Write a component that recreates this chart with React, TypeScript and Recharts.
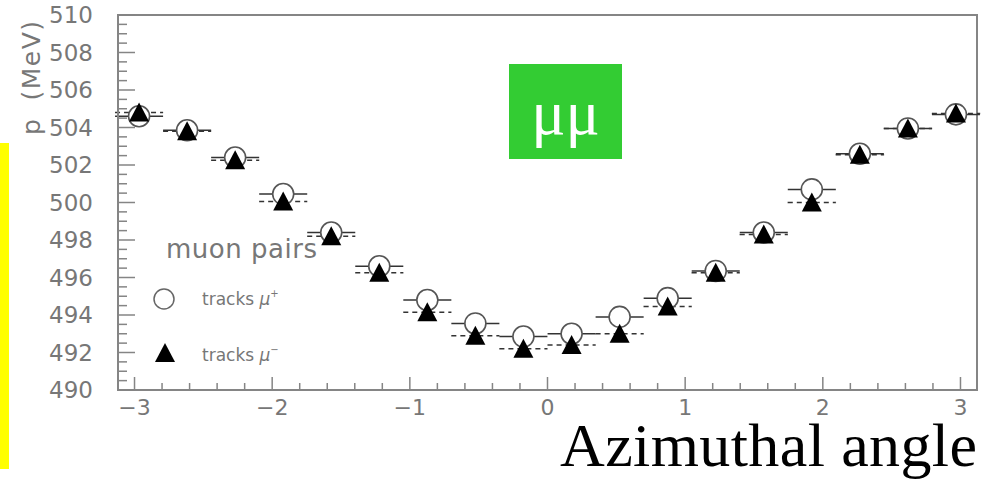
import React from "react";
import {
  ScatterChart,
  Scatter,
  XAxis,
  YAxis,
  ErrorBar,
  ReferenceArea,
} from "recharts";

// bin centres in azimuth (18 bins across -pi..pi)
const phi = [
  -2.967, -2.618, -2.269, -1.92, -1.571, -1.222, -0.873, -0.524, -0.175, 0.175,
  0.524, 0.873, 1.222, 1.571, 1.92, 2.269, 2.618, 2.967,
];
// mean momentum (MeV) for mu+ and mu- tracks
const pPlus = [
  504.6, 503.85, 502.4, 500.45, 498.4, 496.6, 494.8, 493.55, 492.85, 493.0,
  493.9, 494.9, 496.35, 498.4, 500.7, 502.6, 503.95, 504.7,
];
const pMinus = [
  504.8, 503.8, 502.25, 500.05, 498.2, 496.25, 494.15, 492.9, 492.2, 492.4,
  493.0, 494.45, 496.25, 498.3, 500.0, 502.55, 503.95, 504.75,
];
const binHalfWidth = 0.1745;

const xDomain = [-3.12, 3.12];
const yDomain = [490, 510];
const xMajor = [-3, -2, -1, 0, 1, 2, 3];
const yMajor = [490, 492, 494, 496, 498, 500, 502, 504, 506, 508, 510];

const xTicks: number[] = [];
for (let i = -15; i <= 15; i++) xTicks.push(i / 5);
const yTicks: number[] = [];
for (let v = 490; v <= 510; v += 0.5) yTicks.push(v);

const plusData = phi.map((x, i) => ({ phi: x, p: pPlus[i], dx: binHalfWidth }));
const minusData = phi.map((x, i) => ({ phi: x, p: pMinus[i], dx: binHalfWidth }));

const AXIS = "#858585";
const LABEL = "#777";
const SANS = "'DejaVu Sans', sans-serif";
const SERIF = "'Liberation Serif', 'Times New Roman', serif";

const X_MARGIN = 17;
const Y_MARGIN = 25;

function XTick(props: any) {
  const { x, y, payload } = props;
  const v = payload.value;
  const axisY = y - X_MARGIN;
  const major = xMajor.some((m) => Math.abs(m - v) < 1e-6);
  return (
    <g>
      <line x1={x} x2={x} y1={axisY} y2={axisY - (major ? 13 : 7)} stroke={AXIS} strokeWidth={1.5} />
      {major && (
        <text x={x} y={y} textAnchor="middle" dominantBaseline="central" fontFamily={SANS} fontSize={22} fill={LABEL}>
          {v < 0 ? `\u2212${Math.abs(v)}` : v}
        </text>
      )}
    </g>
  );
}

function YTick(props: any) {
  const { x, y, payload } = props;
  const v = payload.value;
  const axisX = x + Y_MARGIN;
  const major = yMajor.includes(v);
  return (
    <g>
      <line x1={axisX} x2={axisX + (major ? 17 : 9)} y1={y} y2={y} stroke={AXIS} strokeWidth={1.5} />
      {major && (
        <text x={x} y={y} textAnchor="end" dominantBaseline="central" fontFamily={SANS} fontSize={23} fill={LABEL}>
          {v}
        </text>
      )}
    </g>
  );
}

function YTitle(props: any) {
  const vb = props.viewBox || { x: 0, y: 15 };
  const bx = vb.x + 40;
  return (
    <g fontFamily={SANS} fontSize={25} fill={LABEL}>
      <text transform={`translate(${bx}, ${vb.y + 112}) rotate(-90)`} textAnchor="middle">p</text>
      <text transform={`translate(${bx}, ${vb.y + 45}) rotate(-90)`} textAnchor="middle" letterSpacing={1.5}>(MeV)</text>
    </g>
  );
}

const OpenCircle = (props: any) => (
  <circle cx={props.cx} cy={props.cy} r={10.5} fill="#fff" stroke="#555" strokeWidth={1.6} />
);

const Triangle = (props: any) => {
  const { cx, cy } = props;
  return <polygon points={`${cx},${cy - 10} ${cx - 10},${cy + 9} ${cx + 10},${cy + 9}`} fill="#000" />;
};

function Overlay() {
  return (
    <svg width={999} height={479} style={{ position: "absolute", left: 0, top: 0, pointerEvents: "none" }}>
      <rect x={0} y={143} width={9} height={326} fill="#ffff00" />
      <rect x={509} y={64} width={113} height={95} fill="#33cc33" />
      <text x={565.5} y={134} textAnchor="middle" fontFamily={SERIF} fontSize={64} fill="#fff">
        μμ
      </text>

      {/* legend */}
      <g fontFamily={SANS} fill={LABEL}>
        <text x={166} y={258} fontSize={26} textLength={151}>muon pairs</text>
        <circle cx={164} cy={299} r={10} fill="#fff" stroke="#666" strokeWidth={1.5} />
        <text x={202} y={305} fontSize={17}>
          tracks <tspan fontStyle="italic">μ</tspan>
          <tspan fontSize={10} dy={-8}>+</tspan>
        </text>
        <polygon points="165,343 155,362 175,362" fill="#000" />
        <text x={202} y={361} fontSize={17}>
          tracks <tspan fontStyle="italic">μ</tspan>
          <tspan fontSize={10} dy={-8}>−</tspan>
        </text>
      </g>

      <text x={560} y={466} fontFamily={SERIF} fontSize={62} fill="#000" textLength={417}>
        Azimuthal angle
      </text>
    </svg>
  );
}

export default function App() {
  return (
    <div style={{ position: "absolute", left: 0, top: 0, width: 999, height: 479, background: "#fff" }}>
      <ScatterChart width={999} height={479} margin={{ top: 15, right: 22, bottom: 0, left: 0 }}>
        <XAxis
          type="number"
          dataKey="phi"
          domain={xDomain}
          ticks={xTicks}
          interval={0}
          height={89}
          tickSize={0}
          tickMargin={X_MARGIN}
          tickLine={false}
          tick={<XTick />}
          axisLine={{ stroke: AXIS, strokeWidth: 2 }}
          allowDataOverflow
        />
        <YAxis
          type="number"
          dataKey="p"
          domain={yDomain}
          ticks={yTicks}
          interval={0}
          width={118}
          tickSize={0}
          tickMargin={Y_MARGIN}
          tickLine={false}
          tick={<YTick />}
          axisLine={{ stroke: AXIS, strokeWidth: 2 }}
          label={{ content: (p: any) => <YTitle {...p} /> }}
          allowDataOverflow
        />
        <ReferenceArea
          x1={xDomain[0]}
          x2={xDomain[1]}
          y1={yDomain[0]}
          y2={yDomain[1]}
          fill="none"
          stroke={AXIS}
          strokeWidth={2}
        />
        <Scatter data={plusData} shape={<OpenCircle />} isAnimationActive={false}>
          <ErrorBar dataKey="dx" direction="x" width={0} stroke="#333" strokeWidth={1.5} isAnimationActive={false} />
        </Scatter>
        <Scatter data={minusData} shape={<Triangle />} isAnimationActive={false}>
          <ErrorBar
            dataKey="dx"
            direction="x"
            width={0}
            stroke="#333"
            strokeWidth={1.5}
            strokeDasharray="5 4"
            isAnimationActive={false}
          />
        </Scatter>
      </ScatterChart>
      <Overlay />
    </div>
  );
}
